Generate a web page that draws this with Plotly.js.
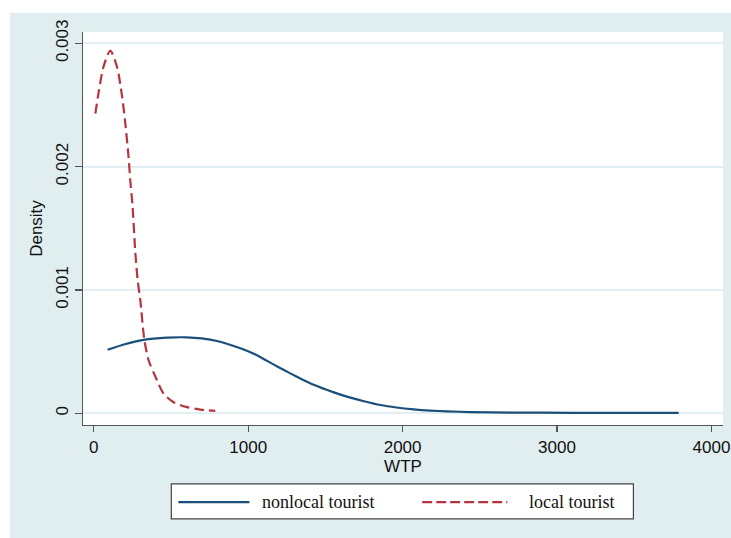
<!DOCTYPE html>
<html>
<head>
<meta charset="utf-8">
<script src="https://cdn.plot.ly/plotly-3.0.1.min.js"></script>
<style>
  html, body { margin: 0; padding: 0; background: #ffffff; width: 731px; height: 538px; overflow: hidden; }
  #chart { position: absolute; left: 10px; top: 13px; width: 721px; height: 525px; }
</style>
</head>
<body>
<div id="chart"></div>
<script>
// Data (kernel density of WTP)
const nonlocalX = [89, 200, 323, 474, 600, 700, 798, 949, 1050, 1122, 1200, 1251, 1337, 1424, 1550, 1640, 1750, 1856, 1960, 2071, 2180, 2287, 2438, 2700, 3100, 3500, 3788];
const nonlocalY = [0.000515, 0.000560, 0.000595, 0.000613, 0.000616, 0.000607, 0.000586, 0.000527, 0.000475, 0.000425, 0.000372, 0.000338, 0.000283, 0.000232, 0.000172, 0.000135, 0.000098, 0.000067, 0.000047, 0.000032, 0.000022, 0.000016, 0.000010, 0.000006, 0.000004, 0.000003, 0.000003];

const localX = [10, 31, 63, 107, 150, 183, 204, 225, 236, 251, 269, 284, 301, 327, 355, 398, 452, 517, 604, 690, 787];
const localY = [0.00243, 0.00260, 0.00281, 0.00294, 0.00281, 0.00257, 0.00235, 0.00208, 0.00189, 0.00168, 0.00130, 0.00108, 0.00092, 0.00060, 0.00043, 0.00030, 0.00016, 0.00009, 0.00005, 0.00003, 0.00002];

const seriesNames = ["nonlocal tourist", "local tourist"];
const xTicks = [0, 1000, 2000, 3000, 4000];
const yTicks = [0, 0.001, 0.002, 0.003];
const yTickText = ["0", "0.001", "0.002", "0.003"];

const blue = "#1a4f7a";
const red = "#b5343f";
const sans = "Liberation Sans, Arial, sans-serif";
const serif = "Liberation Serif, Times New Roman, serif";

const traces = [
  { x: nonlocalX, y: nonlocalY, name: seriesNames[0], type: "scatter", mode: "lines",
    line: { color: blue, width: 2.2, shape: "spline", smoothing: 0.6 }, showlegend: false, hoverinfo: "skip" },
  { x: localX, y: localY, name: seriesNames[1], type: "scatter", mode: "lines",
    line: { color: red, width: 2.2, shape: "spline", smoothing: 0.8, dash: "10px,5px" }, showlegend: false, hoverinfo: "skip" }
];

// custom legend (box, line samples, labels) in paper coordinates
const legY = -0.196;
const shapes = [
  { type: "rect", xref: "paper", yref: "paper", x0: 0.138, x1: 0.860, y0: -0.239, y1: -0.150,
    fillcolor: "#ffffff", line: { color: "#444444", width: 1.2 } },
  { type: "line", xref: "paper", yref: "paper", x0: 0.149, x1: 0.260, y0: legY, y1: legY,
    line: { color: blue, width: 2.2 } },
  { type: "line", xref: "paper", yref: "paper", x0: 0.530, x1: 0.663, y0: legY, y1: legY,
    line: { color: red, width: 2.2, dash: "10px,4px" } }
];
const annotations = [
  { xref: "paper", yref: "paper", x: 0.277, y: legY, xanchor: "left", yanchor: "middle",
    text: seriesNames[0], showarrow: false, font: { family: serif, size: 18, color: "#111111" } },
  { xref: "paper", yref: "paper", x: 0.693, y: legY, xanchor: "left", yanchor: "middle",
    text: seriesNames[1], showarrow: false, font: { family: serif, size: 18, color: "#111111" } }
];

const layout = {
  width: 721, height: 525,
  margin: { l: 72.7, r: 8.3, t: 19, b: 113, pad: 0 },
  paper_bgcolor: "#e1eef0",
  plot_bgcolor: "#ffffff",
  showlegend: false,
  xaxis: {
    range: [-70, 4075],
    tickvals: xTicks,
    ticktext: xTicks.map(String),
    showgrid: false, zeroline: false,
    showline: true, linecolor: "#555555", linewidth: 1.3,
    ticks: "outside", ticklen: 6, tickcolor: "#555555", tickwidth: 1.3,
    tickfont: { family: sans, size: 17, color: "#111111" },
    title: { text: "WTP", font: { family: sans, size: 17, color: "#111111" }, standoff: 0 },
    automargin: false, fixedrange: true
  },
  yaxis: {
    range: [-0.0000949, 0.003092],
    tickvals: yTicks,
    ticktext: yTickText,
    tickangle: -90,
    showgrid: true, gridcolor: "#e2eef1", gridwidth: 2,
    zeroline: false,
    showline: true, linecolor: "#555555", linewidth: 1.3,
    ticks: "outside", ticklen: 7, tickcolor: "#555555", tickwidth: 1.3,
    tickfont: { family: sans, size: 17, color: "#111111" },
    title: { text: "Density", font: { family: sans, size: 17, color: "#111111" }, standoff: 6 },
    automargin: false, fixedrange: true
  },
  shapes: shapes,
  annotations: annotations
};

Plotly.newPlot("chart", traces, layout, { displayModeBar: false, staticPlot: true });
</script>
</body>
</html>
